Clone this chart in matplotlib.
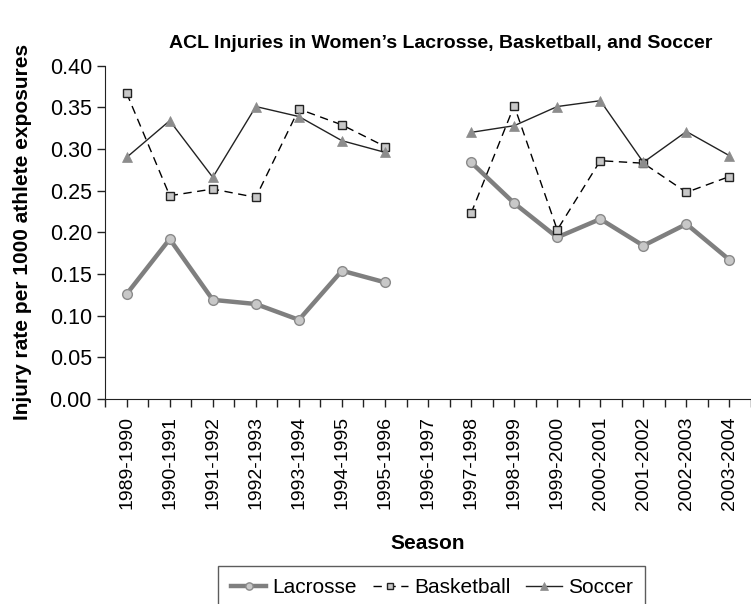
import matplotlib
matplotlib.use("Agg")
import matplotlib.pyplot as plt
import numpy as np

plt.rcParams['font.family'] = ['Liberation Sans', 'DejaVu Sans']

seasons = ['1989-1990', '1990-1991', '1991-1992', '1992-1993', '1993-1994',
           '1994-1995', '1995-1996', '1996-1997', '1997-1998', '1998-1999',
           '1999-2000', '2000-2001', '2001-2002', '2002-2003', '2003-2004']

# 1996-1997 has no data
lacrosse = [0.126, 0.192, 0.119, 0.114, 0.095, 0.154, 0.140, np.nan,
            0.284, 0.235, 0.194, 0.216, 0.184, 0.210, 0.167]
basketball = [0.367, 0.244, 0.252, 0.242, 0.348, 0.329, 0.303, np.nan,
              0.223, 0.352, 0.203, 0.286, 0.283, 0.248, 0.267]
soccer = [0.290, 0.334, 0.266, 0.351, 0.339, 0.310, 0.296, np.nan,
          0.320, 0.328, 0.351, 0.358, 0.284, 0.321, 0.292]

x = np.arange(len(seasons))

fig = plt.figure(figsize=(7.51, 6.04), dpi=100)
ax = fig.add_axes([0.14, 0.3394, 0.86, 0.5518])

ax.plot(x, lacrosse, color='#7f7f7f', lw=3.2, marker='o', ms=7,
        mfc='#c8c8c8', mec='#8a8a8a', mew=1, label='Lacrosse', zorder=2)
ax.plot(x, basketball, color='black', lw=1, ls=(0, (6, 4)), marker='s', ms=5.5,
        mfc='#c8c8c8', mec='#222222', mew=1, label='Basketball', zorder=3)
ax.plot(x, soccer, color='#222222', lw=1, marker='^', ms=7.5,
        mfc='#8c8c8c', mec='#8c8c8c', mew=0.5, label='Soccer', zorder=3)

ax.set_xlim(-0.5, 14.35)
ax.set_ylim(0, 0.40)
ax.set_yticks(np.arange(0, 0.401, 0.05))
ax.set_yticklabels(['%.2f' % v for v in np.arange(0, 0.401, 0.05)], fontsize=15.5)
ax.set_xticks(x)
ax.set_xticklabels(seasons, rotation=90, fontsize=14)
ax.set_xticks(np.arange(-0.5, 14.6, 1), minor=True)
ax.tick_params(axis='both', which='both', direction='out', length=5.5, width=1, color='#222222')
ax.tick_params(axis='x', which='major', pad=7)
ax.tick_params(axis='y', which='major', pad=4)

for s in ['top', 'right']:
    ax.spines[s].set_visible(False)
ax.spines['left'].set_color('#222222')
ax.spines['bottom'].set_color('#222222')

ax.set_xlabel('Season', fontsize=15, fontweight='bold', labelpad=17)
ax.set_ylabel('Injury rate per 1000 athlete exposures', fontsize=15, fontweight='bold', labelpad=13)
fig.text(0.587, 0.921, 'ACL Injuries in Women\u2019s Lacrosse, Basketball, and Soccer',
         ha='center', fontsize=14, fontweight='bold')

leg = fig.legend(loc='upper center', bbox_to_anchor=(0.575, 0.063), ncol=3,
                 fontsize=15, frameon=True, fancybox=False, edgecolor='#333333',
                 handlelength=1.7, handletextpad=0.3, columnspacing=0.75,
                 borderpad=0.6, borderaxespad=0, markerscale=0.75)
leg.get_frame().set_linewidth(1)

fig.savefig('out.png', dpi=100)
